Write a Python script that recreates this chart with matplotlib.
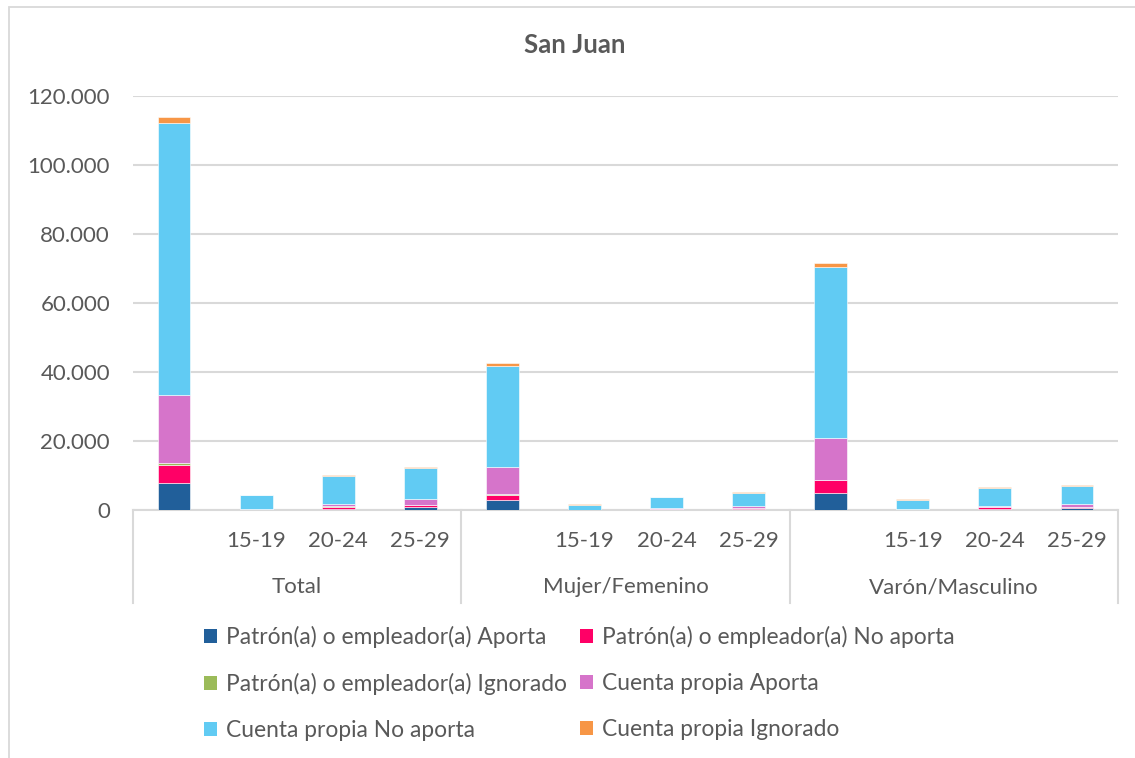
import matplotlib
matplotlib.use("Agg")
import matplotlib.pyplot as plt
from matplotlib.patches import Rectangle, Patch
from matplotlib.lines import Line2D
from matplotlib.ticker import FuncFormatter, MultipleLocator
import numpy as np

plt.rcParams['font.family'] = ['Lato', 'DejaVu Sans']

# Categories: each group holds the group total (blank label) and three age bands
groups = ["Total", "Mujer/Femenino", "Varón/Masculino"]
age_labels = ["", "15-19", "20-24", "25-29"]

series_names = [
    "Patrón(a) o empleador(a) Aporta",
    "Patrón(a) o empleador(a) No aporta",
    "Patrón(a) o empleador(a) Ignorado",
    "Cuenta propia Aporta",
    "Cuenta propia No aporta",
    "Cuenta propia Ignorado",
]
series_colors = ["#215F9A", "#FF0066", "#9BBB59", "#D674CA", "#61CBF3", "#F79646"]

patron_aporta = [7900, 100, 150, 780,   2800, 30, 50, 150,   5020, 70, 150, 550]
patron_no_aporta = [5200, 100, 850, 700,   1650, 30, 100, 350,   3600, 70, 650, 400]
patron_ignorado = [400, 10, 30, 50,   150, 5, 10, 20,   200, 5, 20, 30]
cp_aporta = [19700, 150, 600, 1650,   7950, 60, 300, 730,   12050, 90, 300, 900]
cp_no_aporta = [78900, 3900, 8370, 9000,   29300, 1450, 3260, 3780,   49500, 2800, 5300, 5170]
cp_ignorado = [1900, 100, 150, 290,   700, 75, 50, 100,   1250, 65, 250, 200]

series_values = [patron_aporta, patron_no_aporta, patron_ignorado,
                 cp_aporta, cp_no_aporta, cp_ignorado]

text_color = "#595959"
grid_color = "#D9D9D9"
fs = 16

W, H = 1135, 758
fig = plt.figure(figsize=(W / 100, H / 100), dpi=100)

# outer chart frame
fig.add_artist(Rectangle((9 / W, -0.05), 1.2, 1 - 7 / H + 0.05,
                         transform=fig.transFigure, fill=False,
                         edgecolor=grid_color, linewidth=1.3))

ax_left, ax_right = 133 / W, 1118 / W
ax_bottom, ax_top = 1 - 510 / H, 1 - 96 / H
ax = fig.add_axes([ax_left, ax_bottom, ax_right - ax_left, ax_top - ax_bottom])

n = len(groups) * len(age_labels)
x = np.arange(n)
bottom = np.zeros(n)
handles = []
for name, vals, col in zip(series_names, series_values, series_colors):
    vals = np.array(vals, dtype=float)
    ax.bar(x, vals, width=0.4, bottom=bottom, color=col,
           edgecolor="white", linewidth=0.4, zorder=3)
    bottom += vals
    handles.append(Patch(facecolor=col, edgecolor="none"))

ax.set_xlim(-0.5, n - 0.5)
ax.set_ylim(0, 120000)
ax.yaxis.set_major_locator(MultipleLocator(20000))
ax.yaxis.set_major_formatter(FuncFormatter(lambda v, p: f"{int(v):,}".replace(",", ".")))
ax.grid(axis="y", color=grid_color, linewidth=1.5, zorder=0)
for s in ["top", "right", "left"]:
    ax.spines[s].set_visible(False)
ax.spines["bottom"].set_color(grid_color)
ax.spines["bottom"].set_linewidth(1.5)
ax.tick_params(axis="y", length=0, labelsize=fs, labelcolor=text_color, pad=16.5)
ax.tick_params(axis="x", length=0, labelbottom=False)

# multi-level category axis
axis_h = 510 - 96
trans = matplotlib.transforms.blended_transform_factory(ax.transData, ax.transAxes)
for i in range(n):
    lab = age_labels[i % len(age_labels)]
    if lab:
        ax.text(x[i], -(541 - 510) / axis_h, lab, transform=trans,
                ha="center", va="center", fontsize=fs, color=text_color)
for g, name in enumerate(groups):
    c = g * len(age_labels) + (len(age_labels) - 1) / 2
    ax.text(c, -(587 - 510) / axis_h, name, transform=trans,
            ha="center", va="center", fontsize=fs, color=text_color)
for b in np.arange(len(groups) + 1) * len(age_labels) - 0.5:
    ax.add_line(Line2D([b, b], [0, -(603 - 510) / axis_h], transform=trans,
                       color=grid_color, linewidth=1.5, clip_on=False))

fig.text(575 / W, 1 - 45 / H, "San Juan", ha="center", va="center",
         fontsize=18.5, fontweight="bold", color=text_color)

# legend: row-wise order in two columns
order = [0, 2, 4, 1, 3, 5]
fig.legend([handles[i] for i in order], [series_names[i] for i in order],
           ncol=2, loc="upper left", bbox_to_anchor=(204 / W, 1 - 626 / H),
           frameon=False, fontsize=16.4, labelcolor=text_color,
           handlelength=0.55, handleheight=0.55, handletextpad=0.4,
           labelspacing=1.1, columnspacing=0.6, borderaxespad=0, borderpad=0)

fig.savefig("out.png", dpi=100)
